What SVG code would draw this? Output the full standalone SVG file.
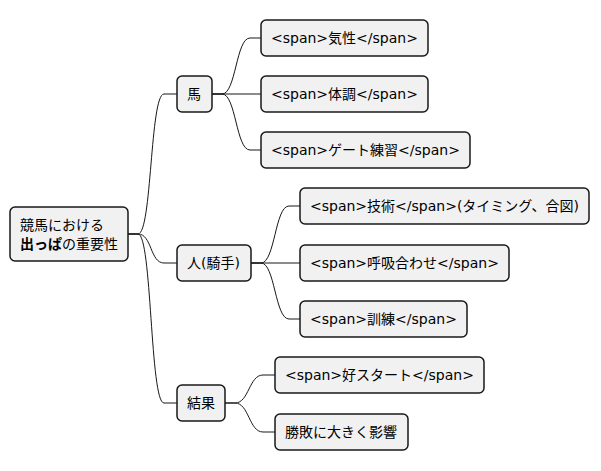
<svg xmlns="http://www.w3.org/2000/svg" width="601" height="471" viewBox="0 0 601 471">
<style>
.n rect{fill:#f1f1f1;stroke:#181818;stroke-width:1.5}
text{font-family:"DejaVu Sans","Noto Sans CJK JP",sans-serif;font-size:14px;fill:#000}
.c path{fill:none;stroke:#181818;stroke-width:1}
</style>
<rect width="601" height="471" fill="#fff"/>
<g class="c" id="connectors">
<path d="M128,234 L138,234 C152,234 150,94 164,94 L177,94"/>
<path d="M128,234 L138,234 C152,234 150,263 164,263 L177,263"/>
<path d="M128,234 L138,234 C152,234 150,403 164,403 L177,403"/>
<path d="M212,94 L222,94 C236,94 236,38 250,38 L261,38"/>
<path d="M212,94 L261,94"/>
<path d="M212,94 L222,94 C236,94 236,150 250,150 L261,150"/>
<path d="M251,263 L261,263 C275,263 275,206 289,206 L300,206"/>
<path d="M251,263 L300,263"/>
<path d="M251,263 L261,263 C275,263 275,319 289,319 L300,319"/>
<path d="M225,403 L235,403 C249,403 249,375 263,375 L275,375"/>
<path d="M225,403 L235,403 C249,403 249,432 263,432 L275,432"/>
</g>
<g class="n" id="root"><rect x="10" y="207" width="118" height="54" rx="5"/><text x="20" y="230">競馬における</text><text x="20" y="249"><tspan font-weight="bold">出っぱ</tspan>の重要性</text></g>
<g class="n" id="uma"><rect x="177" y="76" width="35" height="36" rx="5"/><text x="187" y="99">馬</text></g>
<g class="n" id="kisei"><rect x="261" y="20" width="167" height="36" rx="5"/><text x="271" y="43">&lt;span&gt;気性&lt;/span&gt;</text></g>
<g class="n" id="taicho"><rect x="261" y="76" width="167" height="36" rx="5"/><text x="271" y="99">&lt;span&gt;体調&lt;/span&gt;</text></g>
<g class="n" id="gate"><rect x="261" y="132" width="209" height="36" rx="5"/><text x="271" y="155">&lt;span&gt;ゲート練習&lt;/span&gt;</text></g>
<g class="n" id="hito"><rect x="177" y="245" width="74" height="36" rx="5"/><text x="187" y="268">人(騎手)</text></g>
<g class="n" id="gijutsu"><rect x="300" y="188" width="289" height="36" rx="5"/><text x="310" y="211">&lt;span&gt;技術&lt;/span&gt;(タイミング、合図)</text></g>
<g class="n" id="kokyu"><rect x="300" y="245" width="209" height="36" rx="5"/><text x="310" y="268">&lt;span&gt;呼吸合わせ&lt;/span&gt;</text></g>
<g class="n" id="kunren"><rect x="300" y="301" width="167" height="36" rx="5"/><text x="310" y="324">&lt;span&gt;訓練&lt;/span&gt;</text></g>
<g class="n" id="kekka"><rect x="177" y="385" width="48" height="36" rx="5"/><text x="187" y="408">結果</text></g>
<g class="n" id="start"><rect x="275" y="357" width="209" height="36" rx="5"/><text x="285" y="380">&lt;span&gt;好スタート&lt;/span&gt;</text></g>
<g class="n" id="shohai"><rect x="275" y="414" width="133" height="36" rx="5"/><text x="285" y="437">勝敗に大きく影響</text></g>
</svg>
